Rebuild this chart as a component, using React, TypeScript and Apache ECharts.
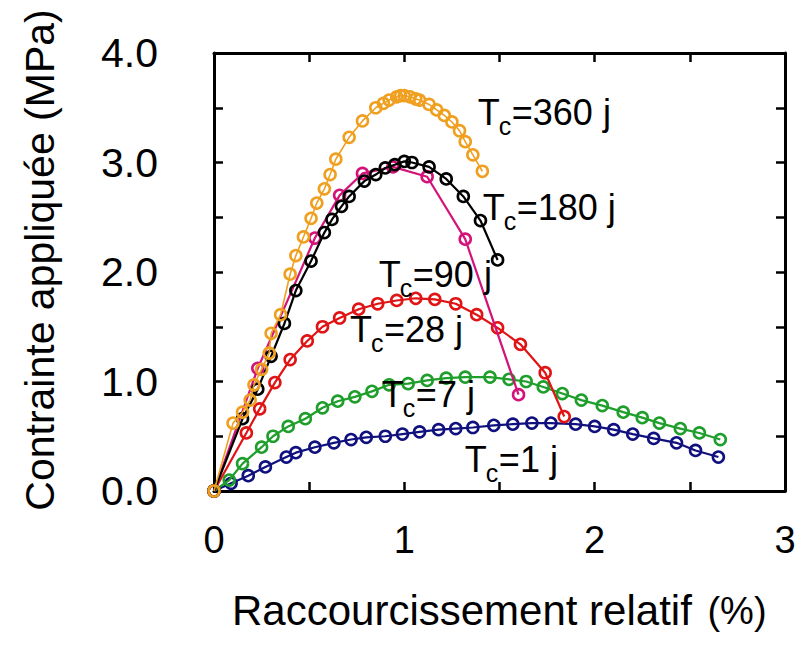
import React, { useEffect, useRef } from 'react';
import * as echarts from 'echarts';

const FONT = '"Liberation Sans", Arial, Helvetica, sans-serif';

// x: relative shortening (%), y: applied stress (MPa)
const tc1Data: number[][] = [
  [0, 0], [0.09, 0.07], [0.18, 0.14], [0.27, 0.22], [0.38, 0.31], [0.43, 0.35], [0.53, 0.40],
  [0.63, 0.44], [0.72, 0.47], [0.80, 0.49], [0.90, 0.50], [0.99, 0.52], [1.08, 0.54], [1.18, 0.56],
  [1.27, 0.57], [1.36, 0.58], [1.47, 0.60], [1.57, 0.61], [1.67, 0.62], [1.77, 0.62], [1.90, 0.61],
  [2.00, 0.59], [2.10, 0.56], [2.20, 0.52], [2.31, 0.48], [2.43, 0.44], [2.53, 0.37], [2.65, 0.31],
];
const tc7Data: number[][] = [
  [0, 0], [0.08, 0.10], [0.15, 0.25], [0.25, 0.40], [0.31, 0.50], [0.39, 0.59], [0.48, 0.66],
  [0.57, 0.76], [0.65, 0.82], [0.74, 0.86], [0.83, 0.91], [0.92, 0.97], [1.02, 0.98], [1.12, 1.01],
  [1.22, 1.03], [1.32, 1.04], [1.45, 1.04], [1.55, 1.02], [1.64, 1.00], [1.73, 0.95], [1.83, 0.89],
  [1.93, 0.83], [2.04, 0.78], [2.15, 0.72], [2.25, 0.67], [2.34, 0.62], [2.45, 0.57], [2.55, 0.53],
  [2.66, 0.47],
];
const tc28Data: number[][] = [
  [0, 0], [0.17, 0.53], [0.24, 0.75], [0.32, 0.99], [0.40, 1.20], [0.49, 1.37], [0.57, 1.50],
  [0.66, 1.58], [0.76, 1.66], [0.86, 1.71], [0.96, 1.74], [1.06, 1.76], [1.16, 1.75], [1.27, 1.71],
  [1.38, 1.61], [1.49, 1.49], [1.61, 1.34], [1.74, 1.08], [1.84, 0.68],
];
const tc90Data: number[][] = [
  [0, 0], [0.23, 1.12], [0.53, 2.31], [0.66, 2.70], [0.78, 2.90], [0.94, 2.96], [1.12, 2.87],
  [1.32, 2.30], [1.60, 0.88],
];
const tc180Data: number[][] = [
  [0, 0], [0.15, 0.66], [0.23, 0.93], [0.30, 1.23], [0.37, 1.53], [0.43, 1.83], [0.51, 2.10],
  [0.58, 2.36], [0.62, 2.48], [0.67, 2.60], [0.71, 2.69], [0.79, 2.83], [0.85, 2.89], [0.90, 2.95],
  [0.95, 2.98], [1.00, 3.01], [1.04, 3.00], [1.13, 2.96], [1.22, 2.85], [1.31, 2.69], [1.40, 2.47],
  [1.49, 2.11],
];
const tc360Data: number[][] = [
  [0, 0], [0.10, 0.62], [0.15, 0.72], [0.19, 0.83], [0.21, 0.97], [0.25, 1.11], [0.29, 1.26],
  [0.30, 1.44], [0.35, 1.61], [0.40, 1.98], [0.43, 2.15], [0.47, 2.32], [0.51, 2.49], [0.54, 2.63],
  [0.58, 2.76], [0.61, 2.89], [0.64, 3.03], [0.71, 3.23], [0.78, 3.38], [0.85, 3.50], [0.89, 3.54],
  [0.92, 3.57], [0.96, 3.60], [0.98, 3.61], [1.00, 3.61], [1.03, 3.60], [1.06, 3.58], [1.08, 3.57],
  [1.13, 3.53], [1.17, 3.48], [1.21, 3.43], [1.25, 3.37], [1.29, 3.29], [1.32, 3.19], [1.36, 3.07],
  [1.41, 2.92],
];

const seriesNames = ['Tc=1 j', 'Tc=7 j', 'Tc=28 j', 'Tc=90 j', 'Tc=180 j', 'Tc=360 j'];
const seriesData = [tc1Data, tc7Data, tc28Data, tc90Data, tc180Data, tc360Data];
const seriesColors = ['#10107e', '#1f9e2c', '#e01414', '#d4137a', '#000000', '#f0a020'];

const xTicks = [0, 1, 2, 3];
const yTicks = [0, 1, 2, 3, 4];

// T_c annotation labels (suffix after "T_c=")
const tcLabels = ['360 j', '180 j', '90 j', '28 j', '7 j', '1 j'];
// annotation anchors (data coords: left of "T", text baseline)
const tcAnchorX = [1.386, 1.412, 0.866, 0.714, 0.882, 1.318];
const tcAnchorY = [3.342, 2.475, 1.863, 1.361, 0.767, 0.174];

const xTitle = 'Raccourcissement relatif';
const xTitleUnit = '(%)';
const yTitle = 'Contrainte appliquée (MPa)';

export default function App() {
  const ref = useRef<HTMLDivElement>(null);

  useEffect(() => {
    if (!ref.current) return;
    const chart = echarts.init(ref.current, null, { renderer: 'svg' });

    const frameLine = { show: true, onZero: false, lineStyle: { color: '#000', width: 3 } };
    const tick = { show: true, inside: true, length: 9, lineStyle: { color: '#000', width: 2.5 } };

    const option: any = {
      animation: false,
      backgroundColor: '#ffffff',
      grid: { left: 214, top: 53, width: 571, height: 438, containLabel: false },
      xAxis: [
        {
          type: 'value', min: 0, max: 3, interval: 0.5, position: 'bottom',
          axisLine: frameLine, axisTick: tick, splitLine: { show: false },
          axisLabel: {
            margin: 30, color: '#000', fontSize: 38, fontFamily: FONT,
            formatter: (v: number) => (xTicks.indexOf(v) >= 0 ? String(v) : ''),
          },
        },
        {
          type: 'value', min: 0, max: 3, interval: 0.5, position: 'top',
          axisLine: frameLine, axisTick: tick, splitLine: { show: false }, axisLabel: { show: false },
        },
      ],
      yAxis: [
        {
          type: 'value', min: 0, max: 4, interval: 0.5, position: 'left',
          axisLine: frameLine, axisTick: tick, splitLine: { show: false },
          axisLabel: {
            margin: 56, color: '#000', fontSize: 41, fontFamily: FONT,
            formatter: (v: number) => (yTicks.indexOf(v) >= 0 ? v.toFixed(1) : ''),
          },
        },
        {
          type: 'value', min: 0, max: 4, interval: 0.5, position: 'right',
          axisLine: frameLine, axisTick: tick, splitLine: { show: false }, axisLabel: { show: false },
        },
      ],
      series: seriesData.map((d, i) => ({
        name: seriesNames[i],
        type: 'line',
        data: d,
        xAxisIndex: 0,
        yAxisIndex: 0,
        symbol: 'circle',
        symbolSize: 11,
        showSymbol: true,
        smooth: false,
        z: 2 + i,
        lineStyle: { color: seriesColors[i], width: i === 5 ? 1.6 : 2.2 },
        itemStyle: { color: 'rgba(0,0,0,0)', borderColor: seriesColors[i], borderWidth: 2.6 },
        emphasis: { disabled: true },
      })),
    };
    chart.setOption(option);

    const textStyle = (text: string, size: number, align = 'left') => ({
      text, fontSize: size, fontFamily: FONT, fill: '#000', align, verticalAlign: 'middle',
    });

    const graphics: any[] = [];
    tcLabels.forEach((lab, i) => {
      const p = chart.convertToPixel({ gridIndex: 0 } as any, [tcAnchorX[i], tcAnchorY[i]]) as number[];
      const bx = p[0];
      const by = p[1];
      graphics.push({ type: 'text', x: bx, y: by - 0.35 * 36, z: 100, style: textStyle('T', 36) });
      graphics.push({ type: 'text', x: bx + 21, y: by + 10 - 0.35 * 25, z: 100, style: textStyle('c', 25) });
      graphics.push({ type: 'text', x: bx + 34, y: by - 0.35 * 36, z: 100, style: textStyle('=' + lab, 36) });
    });

    graphics.push({
      type: 'text', x: 40, y: 260, rotation: Math.PI / 2, z: 100,
      style: { ...textStyle(yTitle, 41, 'center') },
    });
    graphics.push({
      type: 'text', x: 232, y: 610, z: 100,
      style: { ...textStyle(xTitle, 42, 'left') },
    });
    graphics.push({
      type: 'text', x: 737, y: 611, z: 100,
      style: { ...textStyle(xTitleUnit, 38, 'center') },
    });

    chart.setOption({ graphic: graphics });

    return () => chart.dispose();
  }, []);

  return (
    <div
      ref={ref}
      style={{ position: 'fixed', left: 0, top: 0, width: 809, height: 645, background: '#fff' }}
    />
  );
}
